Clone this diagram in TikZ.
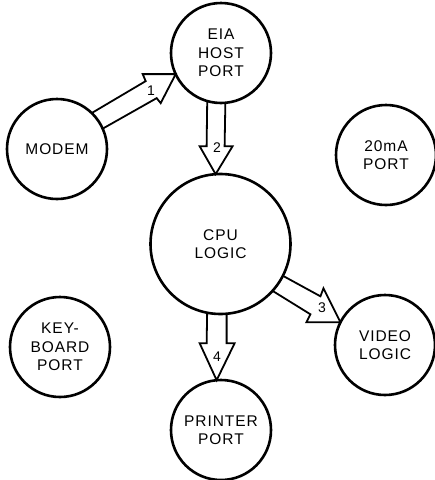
\documentclass[tikz,border=0pt]{standalone}
\usepackage{fontspec}
\setmainfont{Liberation Sans}
\newfontfamily\spacedsans[LetterSpace=6]{Liberation Sans}
\usetikzlibrary{calc}
\begin{document}
\begin{tikzpicture}[x=1pt,y=-1pt,
  unit/.style={circle,draw,line width=2.6pt,inner sep=0pt,outer sep=0pt,
    align=center,font=\spacedsans\fontsize{15.5}{18.5}\selectfont},
  smallunit/.style={unit,minimum size=100pt},
  bigunit/.style={unit,minimum size=140pt},
  flow/.style={draw,line width=1.8pt,line join=miter},
  num/.style={font=\fontsize{14}{14}\selectfont,inner sep=0pt}]
\useasboundingbox (0,0) rectangle (435,480);

% units of the terminal
\node[smallunit] (eia)     at (221,53)    {EIA\\HOST\\PORT};
\node[smallunit] (modem)   at (57,149)    {MODEM};
\node[smallunit] (ma)      at (386,155)   {20mA\\PORT};
\node[bigunit]   (cpu)     at (220.5,244) {CPU\\LOGIC};
\node[smallunit] (kbd)     at (60,347)    {KEY-\\BOARD\\PORT};
\node[smallunit] (video)   at (385,345)   {VIDEO\\LOGIC};
\node[smallunit] (printer) at (221,430)   {PRINTER\\PORT};

% arrow tips on the receiving units
\coordinate (t1) at (eia.205);
\coordinate (t2) at (cpu.94);
\coordinate (t3) at (video.153);
\coordinate (t4) at (printer.95);

% 1: modem -> EIA host port
\draw[flow] (modem.46) -- ($(t1)+(-30,7)$) -- ($(t1)+(-33,0)$) -- (t1)
  -- ($(t1)+(-15,29)$) -- ($(t1)+(-19,24)$) -- (modem.24);
% 2: EIA host port -> CPU logic
\draw[flow] (eia.254) -- ($(t2)+(-9,-28)$) -- ($(t2)+(-16,-28)$) -- (t2)
  -- ($(t2)+(17,-28)$) -- ($(t2)+(9,-28)$) -- (eia.275);
% 3: CPU logic -> video logic
\draw[flow] (cpu.333) -- ($(t3)+(-20,-26)$) -- ($(t3)+(-17,-34)$) -- (t3)
  -- ($(t3)+(-34,0)$) -- ($(t3)+(-30,-8)$) -- (cpu.318);
% 4: CPU logic -> printer port
\draw[flow] (cpu.259) -- ($(t4)+(-10,-37)$) -- ($(t4)+(-17,-37)$) -- (t4)
  -- ($(t4)+(18,-37)$) -- ($(t4)+(10,-37)$) -- (cpu.275);

% sequence numbers
\node[num] (n1) at (151,91)  {1};
\node[num] (n2) at (217,148) {2};
\node[num] (n3) at (322,308) {3};
\node[num] (n4) at (217,357) {4};
\end{tikzpicture}
\end{document}
